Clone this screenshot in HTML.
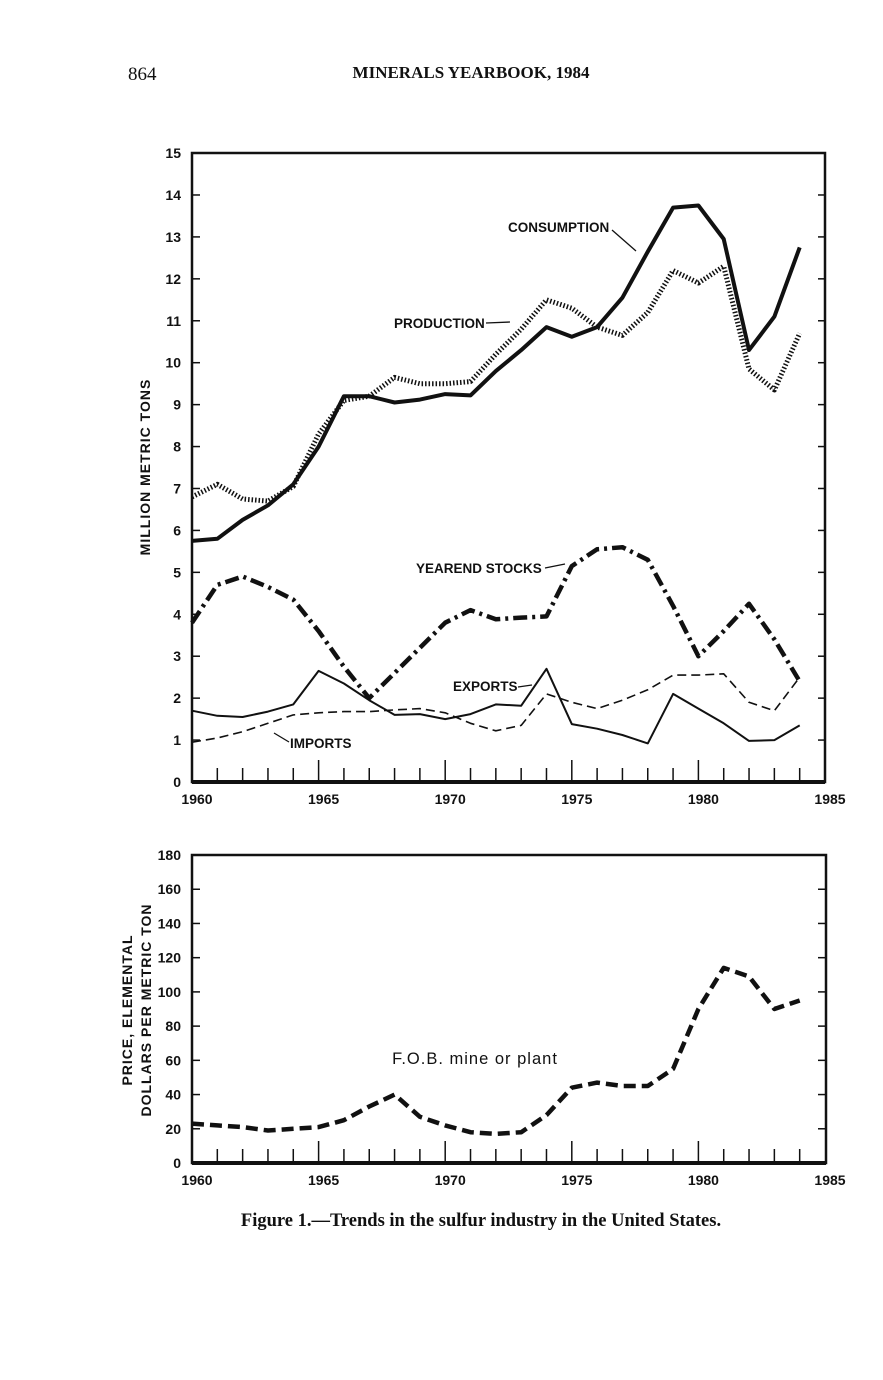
<!DOCTYPE html>
<html><head><meta charset="utf-8"><style>
body{margin:0;background:#fff}
svg{display:block}
.t{font-family:"Liberation Sans",sans-serif;font-weight:bold;fill:#111}
.s{font-family:"Liberation Serif",serif;font-weight:bold;fill:#111}
</style></head><body>
<svg id="c" width="883" height="1380" viewBox="0 0 883 1380" xmlns="http://www.w3.org/2000/svg">
<text x="128" y="80" class="s" font-size="19" style="font-weight:normal">864</text>
<text x="471" y="78" class="s" font-size="17" text-anchor="middle">MINERALS YEARBOOK, 1984</text>
<rect x="192" y="153" width="633" height="629" fill="none" stroke="#111" stroke-width="2.5"/>
<rect x="192" y="855" width="634" height="308" fill="none" stroke="#111" stroke-width="2.5"/>
<line x1="192" y1="782" x2="825" y2="782" stroke="#111" stroke-width="4"/>
<line x1="192" y1="1163" x2="826" y2="1163" stroke="#111" stroke-width="4"/>
<g id="ticks"></g>
<g id="lines" fill="none" stroke="#111" stroke-linejoin="round"></g>
<text transform="translate(150,467) rotate(-90)" class="t" font-size="14" text-anchor="middle" letter-spacing="1">MILLION METRIC TONS</text>
<text transform="translate(132,1010) rotate(-90)" class="t" font-size="14" text-anchor="middle" letter-spacing="1">PRICE, ELEMENTAL</text>
<text transform="translate(151,1010) rotate(-90)" class="t" font-size="14" text-anchor="middle" letter-spacing="1">DOLLARS PER METRIC TON</text>
<text x="508" y="232" class="t" font-size="13.5">CONSUMPTION</text>
<line x1="612" y1="230" x2="636" y2="251" stroke="#111" stroke-width="1.3"/>
<text x="394" y="328" class="t" font-size="13.5">PRODUCTION</text>
<line x1="486" y1="323" x2="510" y2="322" stroke="#111" stroke-width="1.3"/>
<text x="416" y="573" class="t" font-size="13.5">YEAREND STOCKS</text>
<line x1="545" y1="568" x2="565" y2="564" stroke="#111" stroke-width="1.3"/>
<text x="453" y="691" class="t" font-size="13.5">EXPORTS</text>
<line x1="518" y1="687" x2="532" y2="685" stroke="#111" stroke-width="1.3"/>
<text x="290" y="748" class="t" font-size="13.5">IMPORTS</text>
<line x1="289" y1="742" x2="274" y2="733" stroke="#111" stroke-width="1.3"/>
<text x="475" y="1064" class="t" font-size="16.5" text-anchor="middle" style="font-weight:normal" letter-spacing="1">F.O.B. mine or plant</text>
<text x="481" y="1226" class="s" font-size="18.5" text-anchor="middle">Figure 1.—Trends in the sulfur industry in the United States.</text>
</svg>
<script>
const NS="http://www.w3.org/2000/svg",T=document.getElementById('ticks'),L=document.getElementById('lines');
function el(n,a,p){const e=document.createElementNS(NS,n);for(const k in a)e.setAttribute(k,a[k]);(p||T).appendChild(e);return e}
function X(y){return 192+(y-1960)*25.32}
function Y1(v){return 782-v*41.93}
function Y2(v){return 1163-v*1.711}
for(let y=1961;y<1985;y++){const big=y%5==0;
 el('line',{x1:X(y),x2:X(y),y1:782,y2:782-(big?22:14),stroke:'#111','stroke-width':1.5});
 el('line',{x1:X(y),x2:X(y),y1:1163,y2:1163-(big?22:14),stroke:'#111','stroke-width':1.5});}
for(let y=1960;y<=1985;y+=5){
 el('text',{x:X(y)+5,y:804,'text-anchor':'middle',class:'t','font-size':14}).textContent=y;
 el('text',{x:X(y)+5,y:1185,'text-anchor':'middle',class:'t','font-size':14}).textContent=y;}
for(let v=0;v<=15;v++){
 if(v>0&&v<15)el('line',{x1:192,x2:200,y1:Y1(v),y2:Y1(v),stroke:'#111','stroke-width':1.5});
 if(v>0&&v<15)el('line',{x1:818,x2:825,y1:Y1(v),y2:Y1(v),stroke:'#111','stroke-width':1.5});
 el('text',{x:181,y:Y1(v)+5,'text-anchor':'end',class:'t','font-size':14}).textContent=v;}
for(let v=0;v<=180;v+=20){
 if(v>0&&v<180){el('line',{x1:192,x2:200,y1:Y2(v),y2:Y2(v),stroke:'#111','stroke-width':1.5});
 el('line',{x1:818,x2:826,y1:Y2(v),y2:Y2(v),stroke:'#111','stroke-width':1.5});}
 el('text',{x:181,y:Y2(v)+5,'text-anchor':'end',class:'t','font-size':14}).textContent=v;}
function line(d,Y,a){el('polyline',Object.assign({points:d.map((v,i)=>X(1960+i).toFixed(1)+','+Y(v).toFixed(1)).join(' ')},a),L)}
const cons=[5.75,5.8,6.25,6.6,7.1,8.0,9.2,9.2,9.05,9.12,9.25,9.22,9.8,10.3,10.85,10.62,10.85,11.55,12.65,13.7,13.75,12.95,10.3,11.1,12.75];
const prod=[6.8,7.1,6.75,6.7,7.05,8.3,9.1,9.2,9.65,9.5,9.5,9.55,10.2,10.8,11.5,11.3,10.85,10.65,11.2,12.2,11.9,12.3,9.85,9.35,10.7];
const stk=[3.8,4.7,4.9,4.65,4.35,3.6,2.75,2.0,2.6,3.2,3.8,4.1,3.88,3.92,3.95,5.15,5.55,5.6,5.3,4.2,3.0,3.6,4.25,3.4,2.4];
const exp=[0.95,1.05,1.2,1.4,1.6,1.65,1.68,1.68,1.72,1.75,1.65,1.4,1.22,1.35,2.1,1.9,1.75,1.95,2.2,2.55,2.55,2.58,1.9,1.7,2.5];
const imp=[1.7,1.58,1.55,1.68,1.85,2.65,2.35,1.95,1.6,1.62,1.5,1.62,1.85,1.82,2.7,1.38,1.27,1.12,0.92,2.1,1.75,1.4,0.98,1.0,1.35];
const pr=[23,22,21,19,20,21,25,33,40,27,22,18,17,18,28,44,47,45,45,55,90,114,109,90,95];
line(cons,Y1,{'stroke-width':4});
line(prod,Y1,{'stroke-width':5,'stroke-dasharray':'1.5 2'});
line(stk,Y1,{'stroke-width':4.5,'stroke-dasharray':'14 5 3 5'});
line(exp,Y1,{'stroke-width':1.6,'stroke-dasharray':'9 5'});
line(imp,Y1,{'stroke-width':2});
line(pr,Y2,{'stroke-width':4.5,'stroke-dasharray':'12 6'});
</script>
</body></html>
